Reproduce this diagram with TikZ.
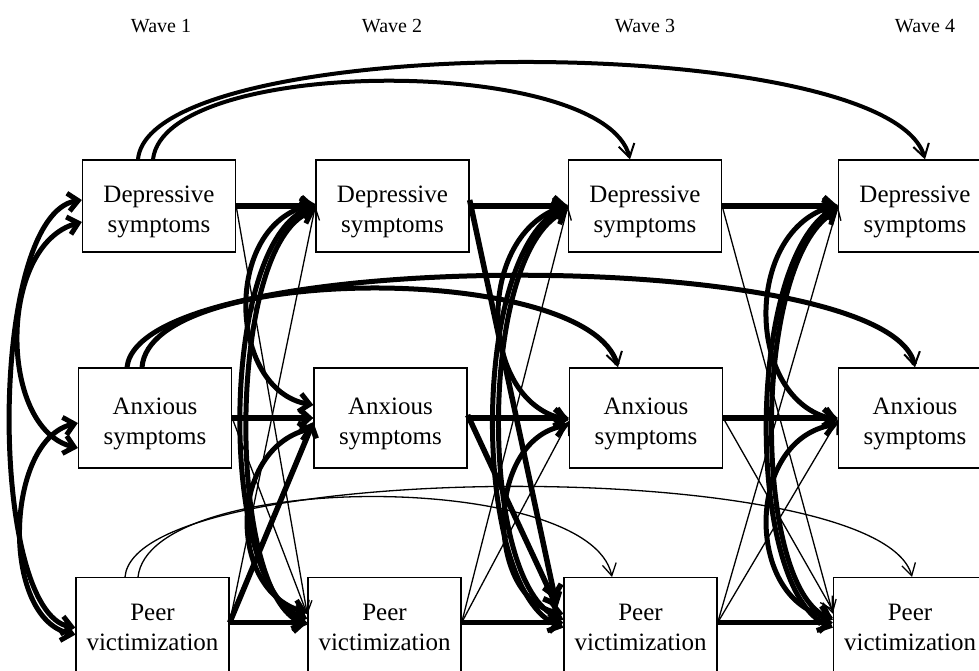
\documentclass[tikz,border=0pt]{standalone}
\usepackage{fontspec}
\setmainfont{Liberation Serif}
\usetikzlibrary{arrows.meta}

\begin{document}
\begin{tikzpicture}[x=1pt,y=-1pt,
  box/.style={draw,line width=1.3pt,rectangle,align=center,inner sep=0pt,minimum width=153pt,minimum height=92pt,font=\fontsize{25}{30}\selectfont},
  lowtext/.style={text height=58pt},
  wave/.style={font=\fontsize{20}{24}\selectfont},
  heavy/.style={line width=5.5pt,-{Straight Barb[length=10pt,width=18pt]}},
  arc/.style={line width=5pt,-{Straight Barb[length=13pt,width=16pt,line width=2pt]}},
  light/.style={line width=1.3pt,-{Straight Barb[length=12pt,width=14pt]}},
  heavycov/.style={line width=5pt,{Straight Barb[length=10pt,width=18pt]}-{Straight Barb[length=10pt,width=18pt]}}]
\useasboundingbox (0,0) rectangle (979,671);
\clip (0,0) rectangle (979,671);

\node[wave] (w1) at (161,26) {Wave 1};
\node[wave] (w2) at (392,26) {Wave 2};
\node[wave] (w3) at (645,26) {Wave 3};
\node[wave] (w4) at (925,26) {Wave 4};

\node[box,lowtext] (d1) at (159,206) {Depressive\\symptoms};
\node[box,lowtext] (d2) at (392.5,206) {Depressive\\symptoms};
\node[box,lowtext] (d3) at (645,206) {Depressive\\symptoms};
\node[box,lowtext] (d4) at (915,206) {Depressive\\symptoms};
\node[box,lowtext,minimum height=100pt] (a1) at (155,418) {Anxious\\symptoms};
\node[box,lowtext,minimum height=100pt] (a2) at (390.5,418) {Anxious\\symptoms};
\node[box,lowtext,minimum height=100pt] (a3) at (646,418) {Anxious\\symptoms};
\node[box,lowtext,minimum height=100pt] (a4) at (915,418) {Anxious\\symptoms};
\node[box,minimum height=100pt,anchor=north] (p1) at (152.5,577) {Peer\\victimization};
\node[box,minimum height=100pt,anchor=north] (p2) at (384.5,577) {Peer\\victimization};
\node[box,minimum height=100pt,anchor=north] (p3) at (640.5,577) {Peer\\victimization};
\node[box,minimum height=100pt,anchor=north] (p4) at (910,577) {Peer\\victimization};

% stability paths
\draw[heavy] (d1.east) -- (d2.west);
\draw[heavy] (d2.east) -- (d3.west);
\draw[heavy] (d3.east) -- (d4.west);
\draw[heavy] (a1.east) -- (a2.west);
\draw[heavy] (a2.east) -- (a3.west);
\draw[heavy] (a3.east) -- (a4.west);
\draw[heavy] ([yshift=5pt]p1.east) -- ([yshift=5pt]p2.west);
\draw[heavy] ([yshift=5pt]p2.east) -- ([yshift=5pt]p3.west);
\draw[heavy] ([yshift=5pt]p3.east) -- ([yshift=5pt]p4.west);

% lag-2 paths
\draw[arc,line width=4pt] ([xshift=-21pt]d1.north) .. controls (150,30) and (890,30) .. ([xshift=10pt]d4.north);
\draw[arc,line width=4pt] ([xshift=-6pt]d1.north) .. controls (165,55) and (605,55) .. ([xshift=-15pt]d3.north);
\draw[arc] ([xshift=-28pt]a1.north) .. controls (140,245) and (890,245) .. (a4.north);
\draw[arc] ([xshift=-13pt]a1.north) .. controls (150,262) and (590,262) .. ([xshift=-28pt]a3.north);
\draw[light] ([xshift=-27.5pt]p1.north) .. controls (135,458) and (880,455) .. ([xshift=2pt]p4.north);
\draw[light] ([xshift=-14.5pt]p1.north) .. controls (150,470) and (590,470) .. ([xshift=-28.5pt]p3.north);

% wave 1 correlations
\draw[heavycov] ([yshift=6pt]d1.west) .. controls (-12,215) and (-12,612) .. (p1.west);
\draw[heavycov] ([yshift=-16pt]d1.west) .. controls (-2,245) and (-2,428) .. ([yshift=-30pt]a1.west);
\draw[heavycov] ([yshift=-5pt]a1.west) .. controls (5,440) and (0,618) .. ([yshift=-7pt]p1.west);

% residual correlations
\draw[heavycov] ([yshift=2pt]d2.west) .. controls (222,225) and (228,390) .. ([yshift=13pt]a2.west);
\draw[heavycov] (d2.west) .. controls (218,240) and (218,590) .. ([yshift=9pt]p2.west);
\draw[heavycov] ([yshift=-4pt]d2.west) .. controls (226,245) and (226,595) .. ([yshift=3pt]p2.west);
\draw[heavycov] ([yshift=-10pt]a2.west) .. controls (228,450) and (228,590) .. ([yshift=15pt]p2.west);

\draw[heavycov] ([yshift=1pt]d3.west) .. controls (475,235) and (478,400) .. ([yshift=-2pt]a3.west);
\draw[heavycov] (d3.west) .. controls (470,250) and (470,590) .. (p3.west);
\draw[heavycov] ([yshift=-4pt]d3.west) .. controls (478,255) and (478,585) .. ([yshift=8pt]p3.west);
\draw[heavycov] ([yshift=-7pt]a3.west) .. controls (485,440) and (485,600) .. ([yshift=14pt]p3.west);

\draw[heavycov] ([yshift=1pt]d4.west) .. controls (743,230) and (745,400) .. ([yshift=-2pt]a4.west);
\draw[heavycov] (d4.west) .. controls (745,260) and (745,590) .. (p4.west);
\draw[heavycov] ([yshift=-4pt]d4.west) .. controls (752,262) and (752,586) .. ([yshift=8pt]p4.west);
\draw[heavycov] ([yshift=-6pt]a4.west) .. controls (745,440) and (745,600) .. ([yshift=10pt]p4.west);

% cross-lagged paths
\draw[light] (d1.east) -- ([yshift=13pt]p2.west);
\draw[light] (a1.east) -- ([yshift=13pt]p2.west);
\draw[light] ([yshift=5pt]p1.east) -- (d2.west);
\draw[heavy] ([yshift=5pt]p1.east) -- ([yshift=-4pt]a2.west);

\draw[heavy] ([yshift=6pt]d2.east) -- ([xshift=-8pt,yshift=28pt]p3.west);
\draw[heavy] ([yshift=3pt]a2.east) -- ([xshift=-6pt,yshift=20pt]p3.west);
\draw[light] ([yshift=5pt]p2.east) -- (d3.west);
\draw[light] ([yshift=5pt]p2.east) -- ([yshift=-3pt]a3.west);

\draw[light] (d3.east) -- ([yshift=14pt]p4.west);
\draw[light] (a3.east) -- ([yshift=17pt]p4.west);
\draw[light] ([yshift=5pt]p3.east) -- (d4.west);
\draw[light] ([yshift=5pt]p3.east) -- ([yshift=-2pt]a4.west);
\end{tikzpicture}
\end{document}
